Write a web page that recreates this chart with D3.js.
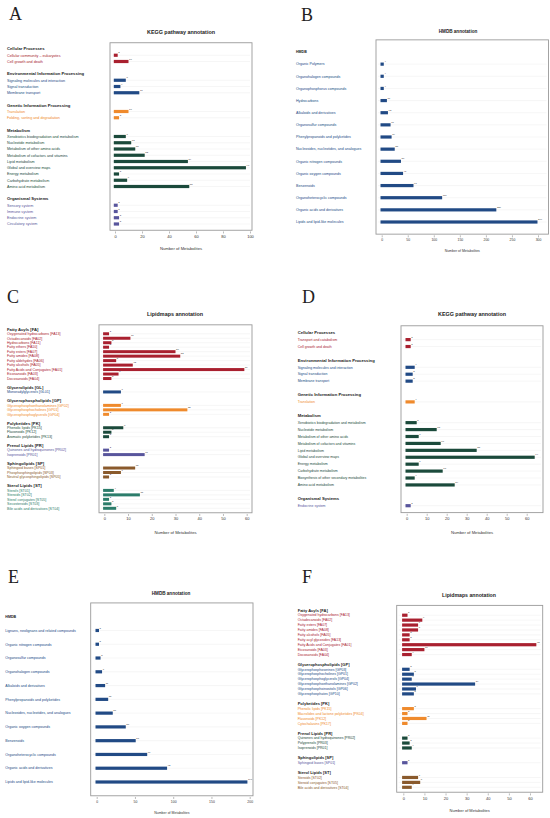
<!DOCTYPE html>
<html><head><meta charset="utf-8">
<script src="https://cdn.jsdelivr.net/npm/d3@7"></script>
<style>body{margin:0;background:#fff}svg{display:block}</style>
</head><body>
<svg id="c" width="550" height="818"></svg>
<script>
// ---------- Panel A : KEGG pathway annotation ----------
const aGroups = ["Cellular Processes","Environmental Information Processing","Genetic Information Processing","Metabolism","Organismal Systems"];
const aItems = [
 ["Cellular community – eukaryotes","Cell growth and death"],
 ["Signaling molecules and interaction","Signal transduction","Membrane transport"],
 ["Translation","Folding, sorting and degradation"],
 ["Xenobiotics biodegradation and metabolism","Nucleotide metabolism","Metabolism of other amino acids","Metabolism of cofactors and vitamins","Lipid metabolism","Global and overview maps","Energy metabolism","Carbohydrate metabolism","Amino acid metabolism"],
 ["Sensory system","Immune system","Endocrine system","Circulatory system"]];
const aValues = [[2,10],[8,4,18],[10,3],[8,12,15,22,54,97,3,9,55],[2,2,3,3]];
const aTicks = [0,20,40,60,80,100];

// ---------- Panel B : HMDB annotation ----------
const bGroups = ["HMDB"];
const bItems = [["Organic Polymers","Organohalogen compounds","Organophosphorus compounds","Hydrocarbons","Alkaloids and derivatives","Organosulfur compounds","Phenylpropanoids and polyketides","Nucleosides, nucleotides, and analogues","Organic nitrogen compounds","Organic oxygen compounds","Benzenoids","Organoheterocyclic compounds","Organic acids and derivatives","Lipids and lipid-like molecules"]];
const bValues = [[4,4,4,10,12,17,19,25,37,41,61,116,220,299]];
const bTicks = [0,50,100,150,200,250,300];

// ---------- Panel C : Lipidmaps annotation ----------
const cGroups = ["Fatty Acyls [FA]","Glycerolipids [GL]","Glycerophospholipids [GP]","Polyketides [PK]","Prenol Lipids [PR]","Sphingolipids [SP]","Sterol Lipids [ST]"];
const cItems = [
 ["Oxygenated hydrocarbons [FA13]","Octadecanoids [FA02]","Hydrocarbons [FA11]","Fatty ethers [FA10]","Fatty esters [FA07]","Fatty amides [FA08]","Fatty aldehydes [FA06]","Fatty alcohols [FA05]","Fatty Acids and Conjugates [FA01]","Eicosanoids [FA03]","Docosanoids [FA04]"],
 ["Monoradylglycerols [GL01]"],
 ["Glycerophosphoethanolamines [GP02]","Glycerophosphocholines [GP01]","Glycerophosphoglycerols [GP04]"],
 ["Phenolic lipids [PK15]","Flavonoids [PK12]","Aromatic polyketides [PK13]"],
 ["Quinones and hydroquinones [PR02]","Isoprenoids [PR01]"],
 ["Sphingoid bases [SP01]","Phosphosphingolipids [SP03]","Neutral glycosphingolipids [SP05]"],
 ["Sterols [ST01]","Steroids [ST02]","Sterol conjugates [ST05]","Secosteroids [ST03]","Bile acids and derivatives [ST04]"]];
const cValues = [[2,11,3,2,30,32,5,12,59,6,3],[7],[7,35,2],[8,3,2],[2,17],[13,7,2],[4,15,2,3,5]];
const cTicks = [0,10,20,30,40,50,60];

// ---------- Panel D : KEGG pathway annotation ----------
const dGroups = ["Cellular Processes","Environmental Information Processing","Genetic Information Processing","Metabolism","Organismal Systems"];
const dItems = [
 ["Transport and catabolism","Cell growth and death"],
 ["Signaling molecules and interaction","Signal transduction","Membrane transport"],
 ["Translation"],
 ["Xenobiotics biodegradation and metabolism","Nucleotide metabolism","Metabolism of other amino acids","Metabolism of cofactors and vitamins","Lipid metabolism","Global and overview maps","Energy metabolism","Carbohydrate metabolism","Biosynthesis of other secondary metabolites","Amino acid metabolism"],
 ["Endocrine system"]];
const dValues = [[2,2],[4,3,3],[4],[5,15,6,17,35,64,6,18,4,24],[2]];
const dTicks = [0,10,20,30,40,50,60];

// ---------- Panel E : HMDB annotation ----------
const eGroups = ["HMDB"];
const eItems = [["Lignans, neolignans and related compounds","Organic nitrogen compounds","Organosulfur compounds","Organohalogen compounds","Alkaloids and derivatives","Phenylpropanoids and polyketides","Nucleosides, nucleotides, and analogues","Organic oxygen compounds","Benzenoids","Organoheterocyclic compounds","Organic acids and derivatives","Lipids and lipid-like molecules"]];
const eValues = [[3,3,5,7,11,15,21,38,51,66,92,197]];
const eTicks = [0,50,100,150,200];

// ---------- Panel F : Lipidmaps annotation ----------
const fGroups = ["Fatty Acyls [FA]","Glycerophospholipids [GP]","Polyketides [PK]","Prenol Lipids [PR]","Sphingolipids [SP]","Sterol Lipids [ST]"];
const fItems = [
 ["Oxygenated hydrocarbons [FA13]","Octadecanoids [FA02]","Fatty esters [FA07]","Fatty amides [FA08]","Fatty alcohols [FA05]","Fatty acyl glycosides [FA13]","Fatty Acids and Conjugates [FA01]","Eicosanoids [FA03]","Docosanoids [FA04]"],
 ["Glycerophosphoserines [GP03]","Glycerophosphocholines [GP01]","Glycerophosphoglycerols [GP04]","Glycerophosphoethanolamines [GP02]","Glycerophosphoinositols [GP06]","Glycerophosphates [GP10]"],
 ["Phenolic lipids [PK15]","Macrolides and lactone polyketides [PK04]","Flavonoids [PK12]","Cytochalasins [PK17]"],
 ["Quinones and hydroquinones [PR02]","Polyprenols [PR03]","Isoprenoids [PR01]"],
 ["Sphingoid bases [SP01]"],
 ["Steroids [ST02]","Steroid conjugates [ST05]","Bile acids and derivatives [ST04]"]];
const fValues = [[2,9,7,7,3,3,63,10,4],[3,5,4,34,6,5],[5,2,11,2],[2,3,4],[2],[7,8,4]];
const fTicks = [0,10,20,30,40,50,60];

// colours
const RED="#a9202f", BLUE="#214a85", ORANGE="#ef8a2c", DGREEN="#1b4a3b", PURPLE="#58559c", BROWN="#8a5a2c", TEAL="#2b7c6a";
const keggColors = [RED,BLUE,ORANGE,DGREEN,PURPLE];
const hmdbColors = [BLUE];
const cColors = [RED,BLUE,ORANGE,DGREEN,PURPLE,BROWN,TEAL];
const fColors = [RED,BLUE,ORANGE,DGREEN,PURPLE,BROWN];

const svg = d3.select("#c");
const FONT = "Liberation Sans, Arial, sans-serif";

function panel(p){
  const g = svg.append("g");
  const rows=[];
  p.groups.forEach((gn,gi)=>{
    if(gi>0) rows.push({type:"blank"});
    rows.push({type:"head",text:gn});
    p.items[gi].forEach((it,ii)=>rows.push({type:"item",text:it,v:p.values[gi][ii],gi}));
  });
  const n=rows.length;
  rows.forEach((r,i)=>r.i=i);
  const y=d3.scaleLinear().domain([0,n-1]).range([p.yFirst,p.yLast]);
  const x=d3.scaleLinear().domain([0,p.xMax]).range([p.x0px,p.x1px]);
  const by0=y(-1), by1=y(n);
  const items=rows.filter(r=>r.type==="item");

  // letter
  g.append("text").attr("x",p.letter[0]).attr("y",p.letter[1])
    .attr("font-family","Liberation Serif, DejaVu Serif, serif").attr("font-size",p.letterSize||18)
    .attr("fill","#222").text(p.letterText);
  // title
  g.append("text").attr("x",p.title[0]).attr("y",p.title[1]).attr("text-anchor","middle")
    .attr("font-family",FONT).attr("font-weight","bold").attr("font-size",p.titleSize)
    .attr("fill","#222").text(p.titleText);
  // grid
  g.selectAll("line.grid").data(items).join("line")
    .attr("x1",p.box[0]+2).attr("x2",p.box[1]-2)
    .attr("y1",d=>y(d.i)).attr("y2",d=>y(d.i))
    .attr("stroke","#ececec").attr("stroke-width",0.5);
  // box
  g.append("rect").attr("x",p.box[0]).attr("y",by0).attr("width",p.box[1]-p.box[0]).attr("height",by1-by0)
    .attr("fill","none").attr("stroke","#9a9a9a").attr("stroke-width",0.9);
  // bars
  const bh=p.barH||3.2;
  g.selectAll("rect.bar").data(items).join("rect")
    .attr("x",x(0)-1.2).attr("y",d=>y(d.i)-bh/2)
    .attr("width",d=>x(d.v)-x(0)+1.2).attr("height",bh)
    .attr("fill",d=>p.colors[d.gi]);
  // value labels
  g.selectAll("text.val").data(items).join("text")
    .attr("x",d=>x(d.v)+0.6).attr("y",d=>y(d.i)-bh/2-0.3)
    .attr("font-family",FONT).attr("font-size",p.valSize||2.4).attr("fill","#333")
    .text(d=>d.v);
  // labels
  g.selectAll("text.lab").data(rows.filter(r=>r.type!=="blank")).join("text")
    .attr("x",p.labelX).attr("y",d=>y(d.i)).attr("dy","0.35em")
    .attr("font-family",FONT)
    .attr("font-weight",d=>d.type==="head"?"bold":"normal")
    .attr("font-size",d=>d.type==="head"?p.headSize:p.itemSize)
    .attr("fill",d=>d.type==="head"?"#1a1a1a":p.colors[d.gi])
    .text(d=>d.text);
  // axis
  const ax=g.append("g").attr("transform",`translate(0,${by1+1.2})`)
    .call(d3.axisBottom(x).tickValues(p.ticks).tickSize(2).tickSizeOuter(0).tickPadding(1.5));
  ax.select(".domain").remove();
  ax.selectAll("line").attr("stroke","#777").attr("stroke-width",0.5);
  ax.selectAll("text").attr("font-family",FONT).attr("font-size",p.tickSize).attr("fill","#333");
  // axis title
  g.append("text").attr("x",(p.box[0]+p.box[1])/2).attr("y",p.axTitleY).attr("text-anchor","middle")
    .attr("font-family",FONT).attr("font-size",p.axTitleSize).attr("fill","#333").text("Number of Metabolites");
}

panel({letterText:"A",letter:[9,20],title:[181,34],titleText:"KEGG pathway annotation",titleSize:5.4,
  groups:aGroups,items:aItems,values:aValues,colors:keggColors,ticks:aTicks,xMax:100,x0px:115,x1px:250,
  box:[110,252],yFirst:49,yLast:224,labelX:7,headSize:4.2,itemSize:3.7,tickSize:4,axTitleY:250,axTitleSize:4.2});
panel({letterText:"B",letter:[301,21],title:[458,33],titleText:"HMDB annotation",titleSize:4.6,
  groups:bGroups,items:bItems,values:bValues,colors:hmdbColors,ticks:bTicks,xMax:300,x0px:381.7,x1px:538,
  box:[376,548.5],yFirst:52,yLast:222,labelX:296,headSize:3.6,itemSize:3.6,tickSize:3.4,axTitleY:252,axTitleSize:3.5});
panel({letterText:"C",letter:[7,303],title:[175,316],titleText:"Lipidmaps annotation",titleSize:5.4,
  groups:cGroups,items:cItems,values:cValues,colors:cColors,ticks:cTicks,xMax:60,x0px:104.3,x1px:246.7,
  box:[99,252],yFirst:329.3,yLast:508.3,labelX:7,headSize:4.2,itemSize:3.6,tickSize:4,axTitleY:534,axTitleSize:4.2,barH:3});
panel({letterText:"D",letter:[302,303],title:[472,316],titleText:"KEGG pathway annotation",titleSize:5.4,
  groups:dGroups,items:dItems,values:dValues,colors:keggColors,ticks:dTicks,xMax:60,x0px:406.7,x1px:526.7,
  box:[401,543],yFirst:332.7,yLast:505.7,labelX:297.7,headSize:4.2,itemSize:3.5,tickSize:4,axTitleY:534,axTitleSize:4.2});
panel({letterText:"E",letter:[8,583],title:[171,595],titleText:"HMDB annotation",titleSize:4.6,
  groups:eGroups,items:eItems,values:eValues,colors:hmdbColors,ticks:eTicks,xMax:200,x0px:96.7,x1px:249.7,
  box:[90.7,253],yFirst:616.7,yLast:782,labelX:5.3,headSize:3.6,itemSize:3.6,tickSize:3.4,axTitleY:814,axTitleSize:3.5});
panel({letterText:"F",letter:[302,583],title:[469,597],titleText:"Lipidmaps annotation",titleSize:5.2,
  groups:fGroups,items:fItems,values:fValues,colors:fColors,ticks:fTicks,xMax:60,x0px:403.3,x1px:530,
  box:[396.7,542.7],yFirst:610.3,yLast:787.3,labelX:297.7,headSize:4,itemSize:3.5,tickSize:4,axTitleY:812,axTitleSize:4});
</script>
</body></html>
